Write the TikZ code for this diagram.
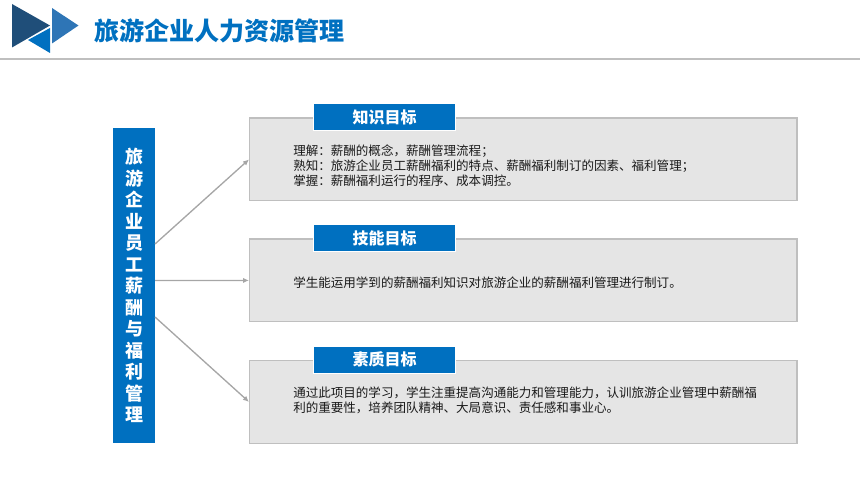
\documentclass[tikz,border=0pt]{standalone}
\usepackage{fontspec}
\setmainfont{Noto Sans CJK SC}
\definecolor{mainblue}{HTML}{0070C0}
\definecolor{midblue}{HTML}{2E75B6}
\definecolor{darkblue}{HTML}{1F4E79}
\definecolor{boxgray}{HTML}{E5E5E5}
\definecolor{edgegray}{HTML}{BFBFBF}
\definecolor{linkgray}{HTML}{A6A6A6}
\tikzset{
  goalbox/.style={draw=edgegray, fill=boxgray, line width=.9pt, minimum width=410.5pt, minimum height=62pt, anchor=north west},
  goalhead/.style={fill=mainblue, draw=white, line width=.3pt, text=white, font=\fontsize{12}{14}\selectfont\bfseries, minimum width=106.5pt, minimum height=20pt, inner sep=0pt},
  goaltext/.style={anchor=west, align=left, inner sep=0pt, text=black!90, font=\fontsize{9.4}{11.25}\selectfont},
  link/.style={draw=linkgray, line width=1pt, -{Latex[length=4.5pt,width=4pt]}}
}
\usetikzlibrary{arrows.meta}
\begin{document}
\begin{tikzpicture}[x=.75pt, y=-.75pt]
  \useasboundingbox (0, 0) rectangle (860, 484);
  % logo
  \fill[darkblue] (12, 4) -- (50, 25.5) -- (12, 47.5) -- cycle;
  \fill[midblue] (52, 8) -- (78.5, 25.5) -- (52, 43.5) -- cycle;
  \fill[mainblue] (28, 40) -- (50, 28) -- (50, 53) -- cycle;
  % title
  \node[anchor=west, inner sep=0pt, text=mainblue, font=\fontsize{18.8}{20}\selectfont\bfseries] (title) at (94, 31) {旅游企业人力资源管理};
  \coordinate (ruleL) at (0, 59);
  \coordinate (ruleR) at (860, 59);
  \draw[edgegray, line width=.9pt] (ruleL) -- (ruleR);
  % nodes
  \node[fill=mainblue, minimum width=31.5pt, minimum height=236pt, inner sep=0pt] (side) at (134, 285.5) {};
  \node[text=white, inner sep=0pt, align=center, font=\fontsize{13.5}{16.12}\selectfont\bfseries] (sidetext) at (side.center) {旅\\游\\企\\业\\员\\工\\薪\\酬\\与\\福\\利\\管\\理};
  \node[goalbox] (know) at (249, 117.5) {};
  \node[goalbox] (skill) at (249, 238.5) {};
  \node[goalbox] (qual) at (249, 360) {};
  \node[goalhead] (knowhead) at (384.5, 117) {\raisebox{-.7pt}{知识目标}};
  \node[goalhead] (skillhead) at (384.5, 238) {\raisebox{-.7pt}{技能目标}};
  \node[goalhead] (qualhead) at (384.5, 359.5) {\raisebox{-.7pt}{素质目标}};
  \node[goaltext] (knowtext) at (293, 165.5) {理解：薪酬的概念，薪酬管理流程；\\熟知：旅游企业员工薪酬福利的特点、薪酬福利制订的因素、福利管理；\\掌握：薪酬福利运行的程序、成本调控。};
  \node[goaltext] (skilltext) at (293, 283) {学生能运用学到的薪酬福利知识对旅游企业的薪酬福利管理进行制订。};
  \node[goaltext] (qualtext) at (293, 400.5) {通过此项目的学习，学生注重提高沟通能力和管理能力，认训旅游企业管理中薪酬福\\利的重要性，培养团队精神、大局意识、责任感和事业心。};
  % lines
  \coordinate (startA) at (155, 244);
  \coordinate (startB) at (155, 280.5);
  \coordinate (startC) at (155, 317);
  \draw[link] (startA) -- (know.west);
  \draw[link] (startB) -- (skill.west);
  \draw[link] (startC) -- (qual.west);
\end{tikzpicture}
\end{document}
